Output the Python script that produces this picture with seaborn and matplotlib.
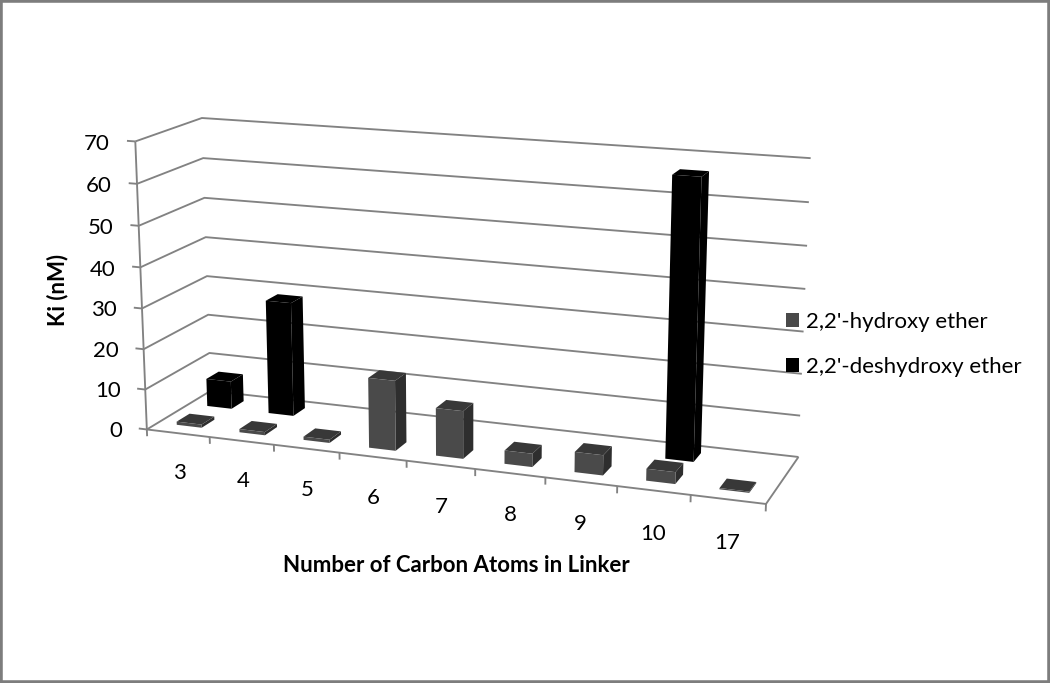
import numpy as np
import matplotlib
matplotlib.use("Agg")
import matplotlib.pyplot as plt
from matplotlib.patches import Patch, Rectangle
import seaborn as sns

# ---- chart data ----
categories = ["3", "4", "5", "6", "7", "8", "9", "10", "17"]
hydroxy = [0.8, 0.8, 0.8, 17.0, 11.5, 3.2, 4.8, 2.8, 0.3]
deshydroxy = [7.0, 28.5, 0, 0, 0, 0, 0, 66.5, 0]
series_names = ["2,2'-hydroxy ether", "2,2'-deshydroxy ether"]
z_ticks = [0, 10, 20, 30, 40, 50, 60, 70]

W, H = 1050, 683
FS = 16
sns.set_theme(style="white", rc={"text.color": "black"})
plt.rcParams["font.family"] = ["Lato", "DejaVu Sans"]
palette = sns.color_palette(["#4a4a4a", "#000000"])

# ---- camera: least squares fit of the 3D chart box to the picture ----
# (category position, depth 0 front .. 1 back, Ki) -> image pixel
cal_world = [(0, 0, 0), (0, 0, 70), (0, 1, 70), (0, 1, 0), (9, 1, 70), (9, 1, 0), (9, 0, 0),
             (0, 1, 60), (0, 1, 50), (0, 1, 40), (0, 1, 30), (0, 1, 20), (0, 1, 10),
             (9, 1, 60), (9, 1, 50), (9, 1, 40), (9, 1, 30), (9, 1, 20), (9, 1, 10),
             (0, 0, 35), (4, 0, 0), (7, 0, 0)]
cal_image = [(146.7, 429), (135.7, 141.7), (201.7, 118.3), (211, 391), (810.7, 158), (798.3, 456.7), (765.7, 502.7),
             (203, 158), (204.5, 198), (205.5, 237), (207, 276), (208, 315), (209.5, 353),
             (808.7, 202), (807, 246), (805.7, 289), (803.7, 331.7), (802, 374), (800, 415),
             (141, 287), (406.7, 461), (617.3, 488.3)]


def fit_camera(world, image):
    rows, rhs = [], []
    for (x, y, z), (u, v) in zip(world, image):
        v = H - v
        rows.append([x, y, z, 1, 0, 0, 0, 0, -u * x, -u * y, -u * z]); rhs.append(u)
        rows.append([0, 0, 0, 0, x, y, z, 1, -v * x, -v * y, -v * z]); rhs.append(v)
    p = np.linalg.lstsq(np.array(rows, float), np.array(rhs, float), rcond=None)[0]
    return np.append(p, 1.0).reshape(3, 4)


CAMERA = fit_camera(cal_world, cal_image)


def to_fig(x, y, z):
    """Project a chart position to figure fractions."""
    u, v, w = CAMERA @ np.array([x, y, z, 1.0])
    return u / w / W, v / w / H


fig = plt.figure(figsize=(W / 100, H / 100), dpi=100)
# a square 3D axes that covers the whole figure
ax = fig.add_axes([0, (H - W) / 2 / H, 1, W / H], projection="3d", computed_zorder=False)
ax.set_axis_off()
ax.set_proj_type("ortho")  # no near-plane clipping; the matrix below supplies the perspective


def camera_proj():
    a = ax.transData.inverted().get_matrix()
    top = a @ CAMERA
    m = np.zeros((4, 4))
    m[0], m[1] = top[0], top[1]
    m[2] = [0, 0.2, 0, 0]
    m[3] = CAMERA[2]
    return m


ax.get_proj = camera_proj

n = len(categories)
GRID = "#828282"
LW = 1.35
line = dict(color=GRID, lw=LW, solid_capstyle="butt", zorder=1)

# walls
for z in z_ticks:
    ax.plot([0, 0, n], [0, 1, 1], [z, z, z], **line)
    ax.plot([0, -0.13], [0, 0], [z, z], **line)
    fx, fy = to_fig(-0.40, 0, z - 1.1)
    fig.text(fx, fy, str(z), ha="right", va="center", fontsize=FS, color="black")
ax.plot([0, 0], [0, 0], [0, 70], **line)
# floor
ax.plot([0, n, n], [0, 0, 1], [0, 0, 0], **line)
for i in range(n + 1):
    ax.plot([i, i], [0, 0], [0, -1.7], **line)
for i, lab in enumerate(categories):
    fx, fy = to_fig(i + 0.5, 0, -10.1)
    fig.text(fx, fy, lab, ha="center", va="center", fontsize=FS, color="black")

# bars: -z, +z, -y, +y, -x, +x faces
CLEAR = (0, 0, 0, 0)
BAR_W, BAR_D = 0.40, 0.20


def bars(values, depth_centre, front, top, side, zorder):
    for i, v in enumerate(values):
        if v <= 0:
            continue
        c = ax.bar3d(i + 0.5 - BAR_W / 2, depth_centre - BAR_D / 2, 0, BAR_W, BAR_D, v,
                     color=[CLEAR, top, front, CLEAR, CLEAR, side], shade=False, linewidth=0)
        c.set_zorder(zorder)


bars(deshydroxy, 0.75, palette[1], palette[1], palette[1], 2)
bars(hydroxy, 0.27, palette[0], "#383838", "#2e2e2e", 3)

# axis titles
fig.text(57.5 / W, 1 - 290 / H, "Ki (nM)", rotation=90, ha="center", va="center",
         fontsize=FS, fontweight="bold", color="black")
fig.text(456 / W, 1 - 566 / H, "Number of Carbon Atoms in Linker", ha="center", va="center",
         fontsize=FS, fontweight="bold", color="black")

# legend
handles = [Patch(facecolor=palette[0], edgecolor="none"), Patch(facecolor=palette[1], edgecolor="none")]
fig.legend(handles, series_names, loc="center left", bbox_to_anchor=(785.5 / W, 1 - 344.5 / H), frameon=False,
           fontsize=FS, handlelength=0.62, handleheight=0.62, handletextpad=0.32, labelspacing=1.12,
           borderpad=0, borderaxespad=0)

# picture frame
fig.add_artist(Rectangle((0, 0), 1, 1, transform=fig.transFigure, fill=False, ec="#7d7d7d", lw=4.0))

fig.savefig("out.png", dpi=100)
